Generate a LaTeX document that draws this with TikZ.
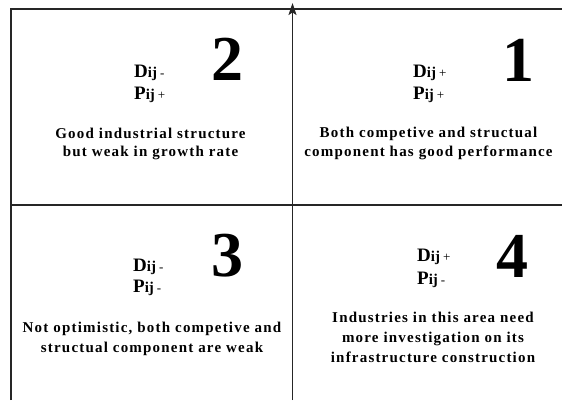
\documentclass[tikz,border=0pt]{standalone}
\usepackage{fontspec}
\setmainfont{Liberation Serif}
\newfontfamily\descfont{Liberation Serif}[LetterSpace=8]
\usetikzlibrary{arrows.meta}
\newcommand\dpl[2]{{\fontsize{19}{22}\selectfont\bfseries #1}{\fontsize{15}{18}\selectfont\bfseries ij}\hspace{3pt}{\fontsize{13}{15}\selectfont #2}}
\begin{document}
\begin{tikzpicture}[x=1pt,y=1pt,
  frame/.style={line width=1.3pt, draw=black!85},
  lbl/.style={anchor=base west, inner sep=0pt},
  bignum/.style={anchor=base, inner sep=0pt, font=\fontsize{64}{70}\selectfont\bfseries},
  desc/.style={anchor=base, inner sep=0pt, align=center, font=\descfont\bfseries\fontsize{15}{18.4}\selectfont},
  descw/.style={desc, font=\descfont\bfseries\fontsize{15}{20}\selectfont}]
\useasboundingbox (0,0) rectangle (564,400);
\coordinate (TL) at (11,391);
\coordinate (TR) at (562,391);
\coordinate (BL) at (11,0);
\coordinate (ML) at (11,195);
\coordinate (MR) at (562,195);
\coordinate (AB) at (292.5,0);
\coordinate (AT) at (292.5,397);
\draw[frame] (BL) -- (TL) -- (TR);
\draw[frame] (ML) -- (MR);
\draw[frame, line width=1.5pt, -{Stealth[length=12pt,width=8pt,inset=2.5pt]}] (AB) -- (AT);
% quadrant 2
\node[lbl] (q2d) at (134,323) {\dpl{D}{-}};
\node[lbl] (q2p) at (134,301) {\dpl{P}{+}};
\node[bignum] (q2n) at (227.5,320) {2};
\node[desc] (q2t) at (150.5,243.3) {Good industrial structure\\but weak in growth rate};
% quadrant 1
\node[lbl] (q1d) at (413,323) {\dpl{D}{+}};
\node[lbl] (q1p) at (413,301) {\dpl{P}{+}};
\node[bignum] (q1n) at (518.5,318.5) {1};
\node[desc] (q1t) at (428.5,244) {Both competive and structual\\component has good performance};
% quadrant 3
\node[lbl] (q3d) at (133,129) {\dpl{D}{-}};
\node[lbl] (q3p) at (133,107.5) {\dpl{P}{-}};
\node[bignum] (q3n) at (227,123.5) {3};
\node[descw] (q3t) at (152,47.3) {Not optimistic, both competive and\\structual component are weak};
% quadrant 4
\node[lbl] (q4d) at (417,139) {\dpl{D}{+}};
\node[lbl] (q4p) at (417,115.5) {\dpl{P}{-}};
\node[bignum] (q4n) at (512,123) {4};
\node[descw] (q4t) at (433,38) {Industries in this area need\\more investigation on its\\infrastructure construction};
\end{tikzpicture}
\end{document}
